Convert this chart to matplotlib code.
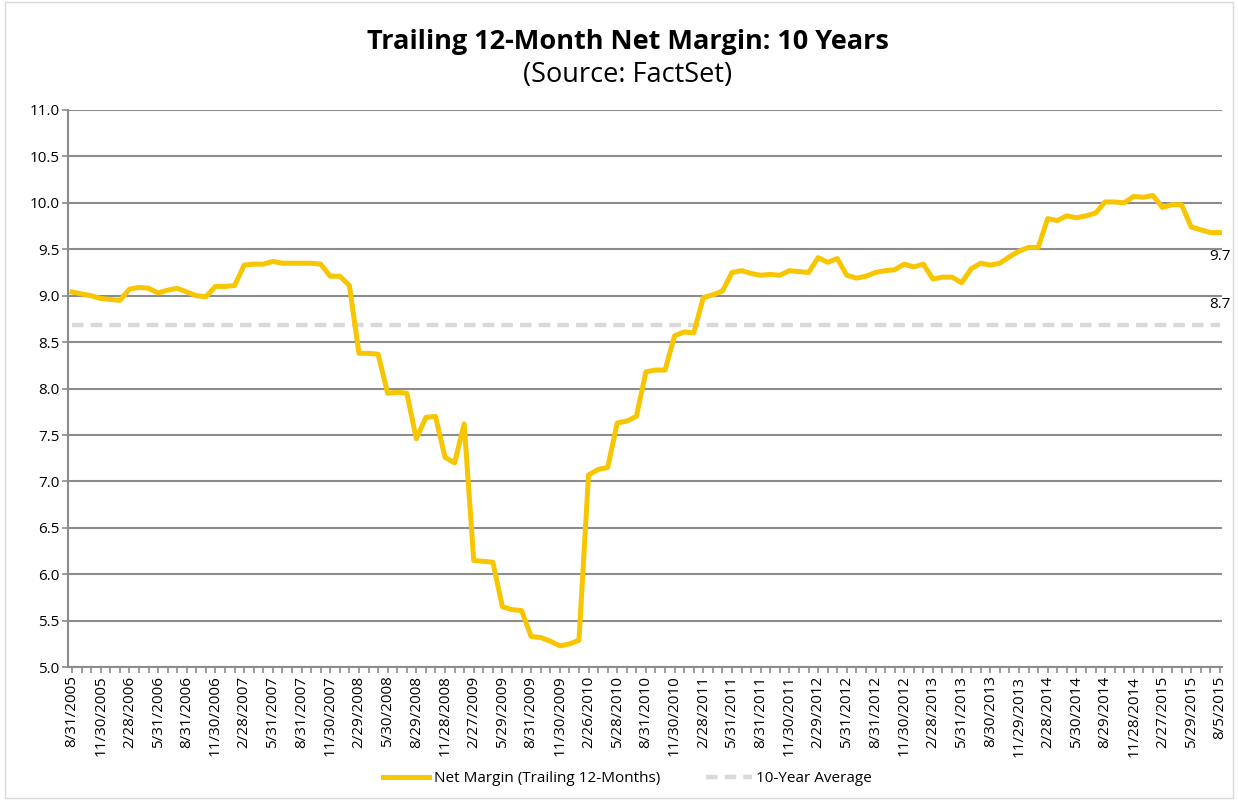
import numpy as np
import matplotlib.pyplot as plt
from matplotlib.patches import Rectangle

# Trailing 12-month net margin, monthly from 8/31/2005 to 8/5/2015
margin = [
    9.04, 9.02, 9.00, 8.97, 8.96, 8.95, 9.07, 9.09, 9.08, 9.03,
    9.06, 9.08, 9.04, 9.00, 8.99, 9.10, 9.10, 9.11, 9.33, 9.34,
    9.34, 9.37, 9.35, 9.35, 9.35, 9.35, 9.34, 9.21, 9.21, 9.11,
    8.38, 8.38, 8.37, 7.95, 7.96, 7.95, 7.46, 7.69, 7.70, 7.26,
    7.20, 7.62, 6.15, 6.14, 6.13, 5.65, 5.62, 5.61, 5.33, 5.32,
    5.28, 5.23, 5.25, 5.29, 7.07, 7.13, 7.15, 7.63, 7.65, 7.70,
    8.18, 8.20, 8.20, 8.57, 8.61, 8.60, 8.98, 9.01, 9.05, 9.25,
    9.27, 9.24, 9.22, 9.23, 9.22, 9.27, 9.26, 9.25, 9.41, 9.36,
    9.40, 9.22, 9.19, 9.21, 9.25, 9.27, 9.28, 9.34, 9.31, 9.34,
    9.18, 9.20, 9.20, 9.14, 9.29, 9.35, 9.33, 9.35, 9.42, 9.48,
    9.52, 9.52, 9.83, 9.81, 9.86, 9.84, 9.86, 9.89, 10.01, 10.01,
    10.00, 10.07, 10.06, 10.08, 9.95, 9.98, 9.98, 9.74, 9.71, 9.68,
    9.68,
]
avg_10y = 8.68

tick_labels = [
    "8/31/2005", "11/30/2005", "2/28/2006", "5/31/2006", "8/31/2006",
    "11/30/2006", "2/28/2007", "5/31/2007", "8/31/2007", "11/30/2007",
    "2/29/2008", "5/30/2008", "8/29/2008", "11/28/2008", "2/27/2009",
    "5/29/2009", "8/31/2009", "11/30/2009", "2/26/2010", "5/28/2010",
    "8/31/2010", "11/30/2010", "2/28/2011", "5/31/2011", "8/31/2011",
    "11/30/2011", "2/29/2012", "5/31/2012", "8/31/2012", "11/30/2012",
    "2/28/2013", "5/31/2013", "8/30/2013", "11/29/2013", "2/28/2014",
    "5/30/2014", "8/29/2014", "11/28/2014", "2/27/2015", "5/29/2015",
    "8/5/2015",
]

plt.rcParams['font.family'] = ['Open Sans', 'DejaVu Sans']

x = np.arange(len(margin))
gold = '#F8C600'
grid_c = '#8C8C8C'

fig = plt.figure(figsize=(12.38, 8), dpi=100)
ax = fig.add_axes([0.0549, 0.166, 0.932, 0.6965])

ax.plot(x, margin, color=gold, lw=3.6, solid_joinstyle='round',
        label="Net Margin (Trailing 12-Months)", zorder=3)
ax.plot(x, [avg_10y] * len(x), color='#D9D9D9', lw=3.2,
        dashes=(2.6, 1.6), label="10-Year Average", zorder=2)

ax.annotate(f"{margin[-1]:.1f}", (x[-1], margin[-1]), xytext=(0, -17),
            textcoords='offset points', ha='center', va='center', fontsize=11)
ax.annotate(f"{avg_10y:.1f}", (x[-1], avg_10y), xytext=(0, 15),
            textcoords='offset points', ha='center', va='center', fontsize=11)

ax.set_ylim(5, 11)
ax.set_yticks(np.arange(5, 11.01, 0.5))
ax.set_yticklabels([f"{v:.1f}" for v in np.arange(5, 11.01, 0.5)])
ax.set_xlim(-0.42, len(x) - 1 + 0.2)
ax.set_xticks(x[::3])
ax.set_xticklabels(tick_labels, rotation=90)
ax.set_xticks(x, minor=True)

ax.yaxis.grid(True, color=grid_c, lw=1.5)
ax.set_axisbelow(True)
for s in ['top', 'right']:
    ax.spines[s].set_visible(False)
for s in ['left', 'bottom']:
    ax.spines[s].set_color(grid_c)
    ax.spines[s].set_linewidth(1.5)
ax.tick_params(axis='both', which='both', color=grid_c, width=1.2, length=4,
               labelsize=11, pad=2)

fig.text(0.507, 0.948, "Trailing 12-Month Net Margin: 10 Years",
         ha='center', va='center', fontsize=19.5, fontweight='bold')
fig.text(0.507, 0.906, "(Source: FactSet)", ha='center', va='center', fontsize=19.5)

fig.legend(loc='center', bbox_to_anchor=(0.507, 0.027), ncol=2, frameon=False,
           fontsize=11, handlelength=3.0, handletextpad=0.3, columnspacing=3)

fig.patches.append(Rectangle((0.004, 0.003), 0.992, 0.994, transform=fig.transFigure,
                             fill=False, edgecolor='#D9D9D9', lw=1))

plt.savefig('out.png', dpi=100)
